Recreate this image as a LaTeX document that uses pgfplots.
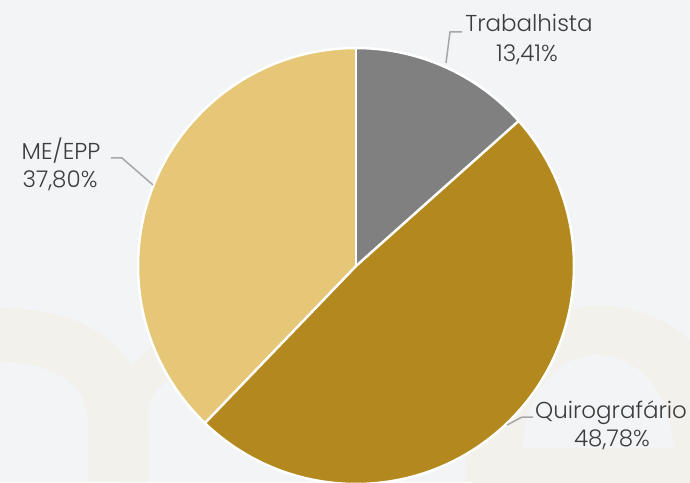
\documentclass[border=0pt]{standalone}
\usepackage{pgfplots}
\usepackage{pgfplotstable}
\pgfplotsset{compat=1.18}
\usepackage{fontspec}
\setmainfont{Poppins Light}
\definecolor{bg}{HTML}{F3F4F6}
\definecolor{wm}{HTML}{F2F1EC}
\definecolor{cA}{HTML}{808080}
\definecolor{cB}{HTML}{B3891F}
\definecolor{cC}{HTML}{E6C677}
\definecolor{txt}{HTML}{3D3D3D}
\definecolor{lead}{HTML}{A6A6A6}
\pgfplotstableread{
label value
Trabalhista 13.41
Quirografario 48.78
MEEPP 37.80
}\piedata
\tikzset{lbl/.style={font=\fontsize{23}{28}\selectfont, text=txt, anchor=base, inner sep=0pt}}
\begin{document}
\begin{tikzpicture}
\pgfplotstablegetelem{0}{value}\of\piedata \let\va\pgfplotsretval
\pgfplotstablegetelem{1}{value}\of\piedata \let\vb\pgfplotsretval
\pgfplotstablegetelem{2}{value}\of\piedata \let\vc\pgfplotsretval
\pgfmathsetmacro\aA{90-3.6*\va}
\pgfmathsetmacro\aB{\aA-3.6*\vb}
\pgfmathsetmacro\aC{\aB-3.6*\vc}
\begin{axis}[width=690pt,height=482pt,scale only axis,
  xmin=0,xmax=690,ymin=0,ymax=482,hide axis]
\fill[bg] (axis cs:0,0) rectangle (axis cs:690,482);
% faint watermark
\fill[wm] (axis cs:0,174) .. controls (axis cs:100,174) and (axis cs:148,122) .. (axis cs:148,55) -- (axis cs:148,0) -- (axis cs:88,0) -- (axis cs:88,59) .. controls (axis cs:88,100) and (axis cs:50,120) .. (axis cs:0,120) -- cycle;
\fill[wm] (axis cs:120,60) -- (axis cs:132,115) .. controls (axis cs:170,160) and (axis cs:200,174) .. (axis cs:260,174) -- (axis cs:260,120) .. controls (axis cs:190,120) and (axis cs:148,100) .. (axis cs:148,70) -- (axis cs:148,0) -- (axis cs:120,0) -- cycle;
\fill[wm] (axis cs:600,42) ellipse [x radius=135pt, y radius=134pt];
\fill[wm] (axis cs:465,0) rectangle (axis cs:690,34);
\fill[bg] (axis cs:523,34) arc[start angle=180, end angle=0, x radius=75pt, y radius=93pt] -- cycle;
% pie
\fill[cA] (axis cs:356,216) -- ++(90:218pt) arc[start angle=90, end angle=\aA, radius=218pt] -- cycle;
\fill[cB] (axis cs:356,216) -- ++(\aA:218pt) arc[start angle=\aA, end angle=\aB, radius=218pt] -- cycle;
\fill[cC] (axis cs:356,216) -- ++(\aB:218pt) arc[start angle=\aB, end angle=\aC, radius=218pt] -- cycle;
\draw[white, line width=2.5pt] (axis cs:356,216) circle[radius=218pt];
\draw[white, line width=2.5pt] (axis cs:356,216) -- ++(90:218pt);
\draw[white, line width=2.5pt] (axis cs:356,216) -- ++(\aA:218pt);
\draw[white, line width=2.5pt] (axis cs:356,216) -- ++(\aB:218pt);
\draw[lead, line width=1.5pt] (axis cs:446,419) -- (axis cs:450,450) -- (axis cs:462,450);
\draw[lead, line width=1.5pt] (axis cs:153,297) -- (axis cs:122,324) -- (axis cs:111,324);
\draw[lead, line width=1.5pt] (axis cs:507,57) -- (axis cs:522,65) -- (axis cs:533,65);
\node[lbl] at (axis cs:529,450) {Trabalhista};
\node[lbl] at (axis cs:527,420) {13,41\%};
\node[lbl] at (axis cs:61,322) {ME/EPP};
\node[lbl] at (axis cs:60,294) {37,80\%};
\node[lbl] at (axis cs:611,64) {Quirografário};
\node[lbl] at (axis cs:612,36) {48,78\%};
\end{axis}
\end{tikzpicture}
\end{document}
